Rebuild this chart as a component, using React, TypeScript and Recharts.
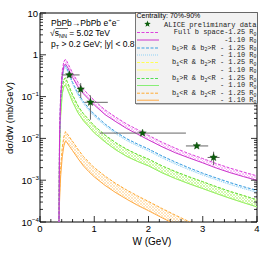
import React from "react";
import { ComposedChart, Line, Area, Scatter, XAxis, YAxis, ErrorBar, ReferenceArea } from "recharts";

// pair mass grid (GeV)
const W = [0.345, 0.36, 0.38, 0.41, 0.44, 0.47, 0.5, 0.55, 0.6, 0.7, 0.8, 0.9, 1.0, 1.2, 1.4, 1.6, 1.8, 2.0, 2.25, 2.5, 2.75, 3.0, 3.25, 3.5, 3.75, 4.0];

// Full b space (magenta)
const fullHi = [1e-5, 0.012, 0.12, 0.42, 0.7, 0.78, 0.68, 0.5, 0.37, 0.22, 0.15, 0.11, 0.081, 0.048, 0.032, 0.022, 0.0162, 0.0118, 0.0081, 0.0058, 0.0043, 0.0033, 0.0025, 0.00195, 0.00157, 0.00127];
const fullLo = [1e-5, 0.009, 0.09, 0.32, 0.54, 0.6, 0.53, 0.39, 0.29, 0.172, 0.117, 0.086, 0.063, 0.037, 0.025, 0.0172, 0.0126, 0.0092, 0.0063, 0.0045, 0.0034, 0.0026, 0.00195, 0.00152, 0.00122, 0.00099];
// b1>R & b2>R (blue)
const outOutHi = [1e-5, 0.009, 0.09, 0.3, 0.5, 0.55, 0.46, 0.32, 0.22, 0.12, 0.076, 0.052, 0.038, 0.022, 0.0142, 0.0098, 0.0073, 0.0056, 0.0038, 0.0027, 0.00197, 0.00147, 0.00113, 0.00088, 0.0007, 0.00057];
const outOutLo = [1e-5, 0.008, 0.08, 0.27, 0.45, 0.5, 0.42, 0.29, 0.2, 0.108, 0.068, 0.047, 0.034, 0.02, 0.0128, 0.0088, 0.0066, 0.005, 0.0034, 0.0024, 0.00177, 0.00132, 0.00102, 0.00079, 0.00063, 0.00051];
// b1<R & b2>R (yellow) -- coincides with the green band
const inOutHi = [1e-5, 0.006, 0.05, 0.17, 0.26, 0.28, 0.23, 0.16, 0.11, 0.06, 0.039, 0.028, 0.02, 0.012, 0.0078, 0.0055, 0.0041, 0.0032, 0.0022, 0.0016, 0.0012, 0.00092, 0.0007, 0.00054, 0.00043, 0.00034];
const inOutLo = [1e-5, 0.004, 0.034, 0.116, 0.177, 0.19, 0.156, 0.109, 0.075, 0.041, 0.0265, 0.019, 0.0136, 0.0082, 0.0053, 0.0037, 0.0028, 0.0022, 0.0015, 0.00109, 0.00082, 0.00063, 0.00048, 0.00037, 0.00029, 0.00023];
// b1>R & b2<R (green)
const outInHi = [1e-5, 0.006, 0.05, 0.17, 0.26, 0.28, 0.23, 0.16, 0.11, 0.06, 0.039, 0.028, 0.02, 0.012, 0.0078, 0.0055, 0.0041, 0.0032, 0.0022, 0.0016, 0.0012, 0.00092, 0.0007, 0.00054, 0.00043, 0.00034];
const outInLo = [1e-5, 0.004, 0.034, 0.116, 0.177, 0.19, 0.156, 0.109, 0.075, 0.041, 0.0265, 0.019, 0.0136, 0.0082, 0.0053, 0.0037, 0.0028, 0.0022, 0.0015, 0.00109, 0.00082, 0.00063, 0.00048, 0.00037, 0.00029, 0.00023];
// b1<R & b2<R (orange)
const inInHi = [1e-5, 5e-4, 0.002, 0.006, 0.011, 0.0145, 0.013, 0.0105, 0.0085, 0.0055, 0.0037, 0.0027, 0.002, 0.00125, 0.00083, 0.00058, 0.00042, 0.00031, 0.00021, 0.000145, 0.000102, 7.3e-5, 5.3e-5, 3.9e-5, 3e-5, 2.3e-5];
const inInLo = [1e-5, 3e-4, 0.0012, 0.0036, 0.0066, 0.0087, 0.0078, 0.0063, 0.0051, 0.0033, 0.0022, 0.0016, 0.0012, 0.00075, 0.0005, 0.00035, 0.00025, 0.000186, 0.000126, 8.7e-5, 6.1e-5, 4.4e-5, 3.2e-5, 2.3e-5, 1.8e-5, 1.4e-5];

// ALICE preliminary
const aliceW = [0.54, 0.75, 0.93, 1.89, 2.89, 3.2];
const aliceV = [0.33, 0.15, 0.073, 0.0134, 0.0066, 0.0035];
const aliceExLo = [0.14, 0.03, 0.11, 0.79, 0.2, 0.11];
const aliceExHi = [0.19, 0.03, 0.32, 0.8, 0.21, 0.11];
const aliceEyLo = [0.04, 0.057, 0.045, 0.001, 0.0005, 0.0012];
const aliceEyHi = [0.04, 0.06, 0.034, 0.001, 0.0005, 0.0013];

const xMajor = [0, 1, 2, 3, 4];
const xTicks = [0, 0.2, 0.4, 0.6, 0.8, 1, 1.2, 1.4, 1.6, 1.8, 2, 2.2, 2.4, 2.6, 2.8, 3, 3.2, 3.4, 3.6, 3.8, 4];
const yDecades = [-4, -3, -2, -1, 0, 1];
const yTicks = yDecades.flatMap((e) => (e === 1 ? [10] : [1, 2, 3, 4, 5, 6, 7, 8, 9].map((m) => m * Math.pow(10, e))));

const PL = 40, PR = 257, PT = 13, PB = 222;
const SANS = "'Liberation Sans', Arial, sans-serif";
const MONO = "'Liberation Mono', 'Courier New', monospace";

const rows = (hi: number[], lo: number[]) => W.map((w, i) => ({ W: w, hi: hi[i], lo: lo[i], band: [lo[i], hi[i]] }));
const full = rows(fullHi, fullLo);
const outOut = rows(outOutHi, outOutLo);
const inOut = rows(inOutHi, inOutLo);
const outIn = rows(outInHi, outInLo);
const inIn = rows(inInHi, inInLo);
const alice = aliceW.map((w, i) => ({ W: w, v: aliceV[i], ex: [aliceExLo[i], aliceExHi[i]], ey: [aliceEyLo[i], aliceEyHi[i]] }));

const starPts = (cx: number, cy: number, r: number, ri: number) =>
  Array.from({ length: 10 }, (_, k) => {
    const a = -Math.PI / 2 + (k * Math.PI) / 5;
    const rr = k % 2 === 0 ? r : ri;
    return `${cx + rr * Math.cos(a)},${cy + rr * Math.sin(a)}`;
  }).join(" ");

const Star = (p: any) => <polygon points={starPts(p.cx, p.cy, 3.9, 1.7)} fill="#0b5e0b" stroke="#043d04" strokeWidth={0.4} />;

const YTick = (p: any) => {
  const v = p.payload.value;
  const e = Math.round(Math.log10(v));
  const major = Math.abs(Math.log10(v) - e) < 1e-6;
  const len = major ? 6 : 3;
  const y = p.y;
  return (
    <g>
      <line x1={PL} x2={PL + len} y1={y} y2={y} stroke="#000" strokeWidth={0.8} />
      <line x1={PR} x2={PR - len} y1={y} y2={y} stroke="#000" strokeWidth={0.8} />
      {major && (
        <text x={e < 0 ? PL - 8 : PL - 2} y={y + 3.5} textAnchor="end" fontSize={9.5} fontFamily={SANS} fill="#000">
          {e === 0 ? "1" : "10"}
        </text>
      )}
      {major && e < 0 && (
        <text x={PL - 8} y={y - 0.5} fontSize={6.2} fontFamily={SANS} fill="#000">
          {`\u2212${-e}`}
        </text>
      )}
    </g>
  );
};

const XTick = (p: any) => {
  const v = p.payload.value;
  const major = xMajor.includes(v);
  const x = p.x;
  return (
    <g>
      <line x1={x} x2={x} y1={PB} y2={PB - (major ? 6 : 3)} stroke="#000" strokeWidth={0.8} />
      {major && (
        <text x={x} y={PB + 10} textAnchor="middle" fontSize={9.5} fontFamily={SANS} fill="#000">
          {v}
        </text>
      )}
    </g>
  );
};

// "b_1" style: underscore marks a one-char subscript; each chunk carries its own dy
const Sub = ({ s, size }: { s: string; size: number }) => {
  const out: React.ReactNode[] = [];
  let buf = "";
  let shift = 0; // current baseline offset
  const push = (txt: string, target: number, fs?: number) => {
    out.push(<tspan key={out.length} dy={target - shift} fontSize={fs}>{txt}</tspan>);
    shift = target;
  };
  for (let i = 0; i < s.length; i++) {
    if (s[i] === "_") {
      if (buf) push(buf, 0);
      buf = "";
      push(s[i + 1], 1.6, size * 0.7);
      i++;
    } else buf += s[i];
  }
  if (buf) push(buf, 0);
  return <>{out}</>;
};

const legendRows = [
  { y: 32, label: "Full b space-1.25 R_0", stroke: "#dd44dd", dash: "3 1.5" },
  { y: 39.5, label: "-1.10 R_0", stroke: "#cc33cc", dash: undefined },
  { y: 47.5, label: "b_1>R & b_2>R - 1.25 R_0", stroke: "#3a9de0", dash: "3 1.5" },
  { y: 54.5, label: "- 1.10 R_0", stroke: "#8fd0f5", dash: "1 1" },
  { y: 62, label: "b_1<R & b_2>R - 1.25 R_0", stroke: "#ffff55", dash: "3 1.5" },
  { y: 69.5, label: "- 1.10 R_0", stroke: "#ffff77", dash: undefined },
  { y: 78, label: "b_1>R & b_2<R - 1.25 R_0", stroke: "#55dd55", dash: "3 1.5" },
  { y: 85, label: "- 1.10 R_0", stroke: "#88ee77", dash: undefined },
  { y: 92.7, label: "b_1<R & b_2<R - 1.25 R_0", stroke: "#ffaa33", dash: "3 1.5" },
  { y: 99.7, label: "- 1.10 R_0", stroke: "#ffaa44", dash: undefined },
];

const Overlay = () => (
  <svg width={272} height={262} style={{ position: "absolute", left: 0, top: 0, pointerEvents: "none" }}>
    <g fontFamily={SANS} fontSize={8.5} fill="#000">
      <text x={51} y={25.5}>
        <tspan>PbPb{"\u2192"}PbPb e</tspan>
        <tspan fontSize={6} dy={-3.2}>+</tspan>
        <tspan dy={3.2}>e</tspan>
        <tspan fontSize={6} dy={-3.2}>{"\u2212"}</tspan>
      </text>
      <text x={50} y={35.5}>
        <tspan>{"\u221A"}s</tspan>
        <tspan fontSize={5.5} dy={2}>NN</tspan>
        <tspan dy={-2}> = 5.02 TeV</tspan>
      </text>
      <line x1={55.5} x2={68} y1={28.5} y2={28.5} stroke="#000" strokeWidth={0.6} />
      <text x={51} y={46.5}>
        <tspan>p</tspan>
        <tspan fontSize={5.5} dy={2}>T</tspan>
        <tspan dy={-2}> &gt; 0.2 GeV; |y| &lt; 0.8</tspan>
      </text>
    </g>
    <text transform="translate(13,118) rotate(-90)" textAnchor="middle" fontFamily={SANS} fontSize={9.5}>d{"\u03C3"}/dW (mb/GeV)</text>
    <text x={152} y={245} textAnchor="middle" fontFamily={SANS} fontSize={10}>W (GeV)</text>

    <rect x={135.5} y={12.5} width={122} height={91} fill="#f2f2f2" stroke="#555" strokeWidth={0.8} />
    <line x1={136} x2={258} y1={104.2} y2={104.2} stroke="#999" strokeWidth={0.8} />
    <text x={136.5} y={17.8} fontFamily={SANS} fontSize={7}>Centrality: 70%-90%</text>
    <polygon points={starPts(147.5, 24, 3.4, 1.4)} fill="#0b5e0b" />
    <g fontFamily={MONO} fontSize={7} fill="#222">
      <text x={256.5} y={26.5} textAnchor="end">ALICE preliminary data</text>
      {legendRows.map((r, i) => (
        <g key={i}>
          <line x1={137} x2={159} y1={r.y + 0.5} y2={r.y + 0.5} stroke={r.stroke} strokeWidth={1} strokeDasharray={r.dash} />
          <text x={256.5} y={r.y + 2.2} textAnchor="end">
            <Sub s={r.label} size={7} />
          </text>
        </g>
      ))}
    </g>
  </svg>
);

const App = () => (
  <div style={{ position: "absolute", left: 0, top: 0, width: 272, height: 262, background: "#fff" }}>
    <ComposedChart width={272} height={262} margin={{ top: PT, right: 272 - PR, left: 0, bottom: 0 }}>
      <defs>
        {[
          ["hMag", "#ee66ee"],
          ["hBlue", "#8fd0f5"],
          ["hYel", "#ffff77"],
          ["hGrn", "#88ee77"],
          ["hOra", "#ffbb55"],
        ].map(([id, c]) => (
          <pattern key={id} id={id} width={3} height={3} patternUnits="userSpaceOnUse">
            <path d="M0,0 L3,3 M3,0 L0,3" stroke={c} strokeWidth={0.6} />
          </pattern>
        ))}
      </defs>
      <XAxis type="number" dataKey="W" domain={[0, 4]} ticks={xTicks} allowDataOverflow interval={0}
        axisLine={false} tickLine={false} tick={<XTick />} height={262 - PB} />
      <YAxis type="number" scale="log" domain={[1e-4, 10]} ticks={yTicks} allowDataOverflow interval={0}
        axisLine={false} tickLine={false} tick={<YTick />} width={PL} />

      <Area data={inIn} dataKey="band" stroke="none" fill="url(#hOra)" isAnimationActive={false} />
      <Line data={inIn} dataKey="hi" stroke="#ffaa33" strokeWidth={1} strokeDasharray="3 1.5" dot={false} isAnimationActive={false} />
      <Line data={inIn} dataKey="lo" stroke="#ffaa44" strokeWidth={1} dot={false} isAnimationActive={false} />

      <Area data={inOut} dataKey="band" stroke="none" fill="url(#hYel)" isAnimationActive={false} />
      <Line data={inOut} dataKey="hi" stroke="#ffff55" strokeWidth={1} strokeDasharray="3 1.5" dot={false} isAnimationActive={false} />
      <Line data={inOut} dataKey="lo" stroke="#ffff77" strokeWidth={1} dot={false} isAnimationActive={false} />

      <Area data={outIn} dataKey="band" stroke="none" fill="url(#hGrn)" isAnimationActive={false} />
      <Line data={outIn} dataKey="hi" stroke="#55dd55" strokeWidth={1} strokeDasharray="3 1.5" dot={false} isAnimationActive={false} />
      <Line data={outIn} dataKey="lo" stroke="#88ee77" strokeWidth={1} dot={false} isAnimationActive={false} />

      <Area data={outOut} dataKey="band" stroke="none" fill="url(#hBlue)" isAnimationActive={false} />
      <Line data={outOut} dataKey="hi" stroke="#3a9de0" strokeWidth={1} strokeDasharray="3 1.5" dot={false} isAnimationActive={false} />
      <Line data={outOut} dataKey="lo" stroke="#8fd0f5" strokeWidth={1} strokeDasharray="1 1" dot={false} isAnimationActive={false} />

      <Area data={full} dataKey="band" stroke="none" fill="url(#hMag)" isAnimationActive={false} />
      <Line data={full} dataKey="hi" stroke="#dd44dd" strokeWidth={1} strokeDasharray="3 1.5" dot={false} isAnimationActive={false} />
      <Line data={full} dataKey="lo" stroke="#cc33cc" strokeWidth={1} dot={false} isAnimationActive={false} />

      <ReferenceArea x1={0} x2={4} y1={1e-4} y2={10} fill="none" stroke="#000" strokeWidth={1} ifOverflow="visible" />

      <Scatter data={alice} dataKey="v" shape={<Star />} isAnimationActive={false}>
        <ErrorBar dataKey="ex" direction="x" width={0} stroke="#666" strokeWidth={1} />
        <ErrorBar dataKey="ey" direction="y" width={0} stroke="#666" strokeWidth={1} />
      </Scatter>
    </ComposedChart>
    <Overlay />
  </div>
);

export default App;
